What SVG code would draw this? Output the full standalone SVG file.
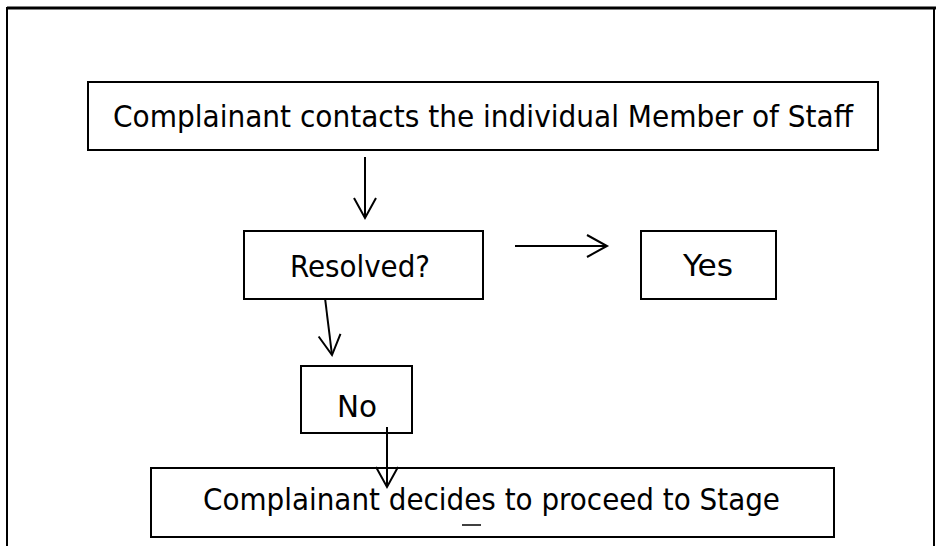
<svg xmlns="http://www.w3.org/2000/svg" width="936" height="546" viewBox="0 0 936 546">
<style>
.box{fill:#fff;stroke:#000;stroke-width:2}
.lbl{font-family:"DejaVu Sans Condensed","DejaVu Sans","Liberation Sans",sans-serif;font-size:31px;fill:#000;text-anchor:middle}
.edge{fill:none;stroke:#000;stroke-width:2}
.frame{fill:none;stroke:#000}
</style>
<defs>
<marker id="arr" markerUnits="userSpaceOnUse" markerWidth="30" markerHeight="30" refX="22" refY="12" orient="auto" viewBox="0 0 30 24">
<polyline points="2,1 22,12 2,23" fill="none" stroke="#000" stroke-width="2"/>
</marker>
</defs>
<rect width="936" height="546" fill="#fff"/>
<g id="frame">
<line class="frame" x1="7" y1="8" x2="936" y2="8" stroke-width="3"/>
<line class="frame" x1="7" y1="7" x2="7" y2="546" stroke-width="2"/>
<line class="frame" x1="934" y1="7" x2="934" y2="546" stroke-width="2"/>
</g>
<g id="n1">
<rect class="box" x="88" y="82" width="790" height="68"/>
<text class="lbl" x="483" y="127" textLength="740" lengthAdjust="spacingAndGlyphs">Complainant contacts the individual Member of Staff</text>
</g>
<g id="n2">
<rect class="box" x="244" y="231" width="239" height="68"/>
<text class="lbl" x="360" y="277" textLength="140" lengthAdjust="spacingAndGlyphs">Resolved?</text>
</g>
<g id="n3">
<rect class="box" x="641" y="231" width="135" height="68"/>
<text class="lbl" x="708" y="276" textLength="50" lengthAdjust="spacingAndGlyphs">Yes</text>
</g>
<g id="n4">
<rect class="box" x="301" y="366" width="111" height="67"/>
<text class="lbl" x="357" y="417" textLength="40" lengthAdjust="spacingAndGlyphs">No</text>
</g>
<g id="n5">
<rect class="box" x="151" y="468" width="683" height="69"/>
<text class="lbl" x="491.5" y="510" textLength="577" lengthAdjust="spacingAndGlyphs">Complainant decides to proceed to Stage</text>
<line x1="462" y1="525" x2="481" y2="525" stroke="#000" stroke-width="1.5"/>
</g>
<g id="connectors">
<line class="edge" x1="365" y1="157" x2="365" y2="218" marker-end="url(#arr)"/>
<line class="edge" x1="515" y1="246" x2="607" y2="246" marker-end="url(#arr)"/>
<line class="edge" x1="325" y1="298" x2="332" y2="355" marker-end="url(#arr)"/>
<line class="edge" x1="387" y1="427" x2="387" y2="487" marker-end="url(#arr)"/>
</g>
</svg>
